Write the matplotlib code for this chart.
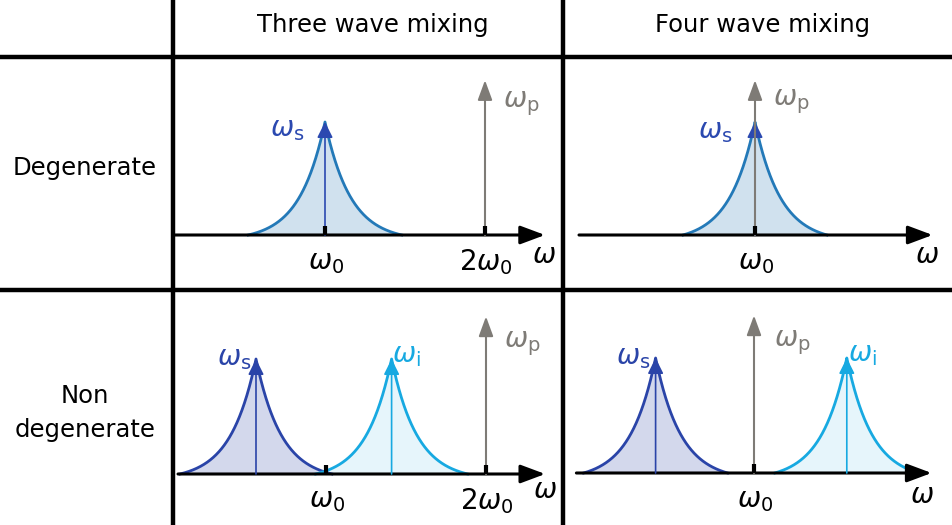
import numpy as np
import matplotlib.pyplot as plt
from matplotlib.lines import Line2D

plt.rcParams['font.family'] = ['DejaVu Sans']
plt.rcParams['mathtext.fontset'] = 'dejavusans'

W, H = 953, 525

col_titles = ['Three wave mixing', 'Four wave mixing']
row_titles = ['Degenerate', 'Non\ndegenerate']

# panels: TL, TR, BL, BR  (frequencies in units of omega_0)
signal_center = [1.0, 1.0, 0.5625, 0.385]
idler_center = [None, None, 1.41, 1.58]
pump_center = [2.0, 1.0, 2.0, 1.0]
peak_extent = [0.48, 0.45, 0.475, 0.45]
peak_width = 0.16
peak_height = 1.0
pump_height = 1.37
tick_pos = [[1, 2], [1], [1, 2], [1]]
tick_labels = [[r'$\omega_0$', r'$2\omega_0$'], [r'$\omega_0$'],
               [r'$\omega_0$', r'$2\omega_0$'], [r'$\omega_0$']]
axis_span = [(0.06, 2.375), (-0.10, 2.11), (0.075, 2.37), (-0.11, 2.11)]

# layout: cell box in px, px of omega_0, px of baseline, px per unit height
cells = [(173, 563, 57, 290, 325, 235, 113),
         (563, 953, 57, 290, 755, 235, 113),
         (173, 563, 290, 525, 326, 474, 115),
         (563, 953, 290, 525, 754, 473, 115)]
PX_PER_W0 = 160

# label anchors (left, baseline) relative to their arrows
sig_lab = [(-0.345, 0.87), (-0.355, 0.86), (-0.245, 0.95), (-0.245, 0.95)]
idl_lab = [None, None, (0.005, 0.97), (0.005, 0.97)]
pmp_lab = [(0.112, 1.13), (0.112, 1.15), (0.112, 1.10), (0.125, 1.10)]
omega_lab = [(2.294, -0.248), (2.0, -0.248), (2.294, -0.21), (1.975, -0.26)]

deg_line, deg_fill, deg_arrow = '#2379b8', '#d0e1ee', '#2b49b0'
sig_line, sig_fill = '#2a44a8', '#d3d8ec'
idl_line, idl_fill = '#17a9e1', '#e6f5fb'
pump_col = '#7e7b76'

fig = plt.figure(figsize=(W / 100, H / 100), dpi=100)


def peak(ax, c, e, line, fill, z=1):
    # sharp resonance line shape, brought down to zero at the ends
    x = np.linspace(c - e, c + e, 801)
    L = np.exp(-np.abs(x - c) / peak_width)
    Le = np.exp(-e / peak_width)
    y = peak_height * (L - Le) / (1 - Le)
    ax.fill_between(x, 0, y, color=fill, lw=0, zorder=z)
    ax.plot(x, y, color=line, lw=2.0, zorder=z + 1)


def arrow(ax, x, top, color, lw, hl=0.48, hw=0.24, z=5):
    ax.annotate('', xy=(x, top), xytext=(x, 0),
                arrowprops=dict(arrowstyle='-|>,head_length=%g,head_width=%g' % (hl, hw),
                                mutation_scale=20, lw=lw, color=color,
                                shrinkA=0, shrinkB=0), zorder=z)


for i, (x0, x1, yt, yb, ref, base, unit) in enumerate(cells):
    ax = fig.add_axes([x0 / W, 1 - yb / H, (x1 - x0) / W, (yb - yt) / H])
    ax.set_xlim(1 + (x0 - ref) / PX_PER_W0, 1 + (x1 - ref) / PX_PER_W0)
    ax.set_ylim((base - yb) / unit, (base - yt) / unit)
    ax.axis('off')

    deg = idler_center[i] is None
    sc = signal_center[i]
    if deg:
        peak(ax, sc, peak_extent[i], deg_line, deg_fill)
        arrow(ax, sc, peak_height, deg_arrow, 1.2, z=6)
        sc_col = deg_arrow
    else:
        peak(ax, sc, peak_extent[i], sig_line, sig_fill)
        peak(ax, idler_center[i], peak_extent[i], idl_line, idl_fill)
        arrow(ax, sc, peak_height, sig_line, 1.2, z=6)
        arrow(ax, idler_center[i], peak_height, idl_line, 1.2, z=6)
        sc_col = sig_line
        ax.text(idler_center[i] + idl_lab[i][0], idl_lab[i][1], r'$\omega_\mathrm{i}$',
                color=idl_line, fontsize=20, ha='left', va='baseline')

    # omega axis
    a0, a1 = axis_span[i]
    ax.annotate('', xy=(a1, 0), xytext=(a0, 0),
                arrowprops=dict(arrowstyle='-|>,head_length=0.75,head_width=0.28',
                                mutation_scale=20, lw=2.2, color='k',
                                shrinkA=0, shrinkB=0), zorder=3)
    for tp, tl in zip(tick_pos[i], tick_labels[i]):
        ax.plot([tp, tp], [0, 9 / unit], color='k', lw=3, solid_capstyle='butt', zorder=9)
        ax.annotate(tl, (tp, 0), xytext=(1, -9), textcoords='offset points',
                    ha='center', va='top', fontsize=20)
    ax.text(omega_lab[i][0], omega_lab[i][1], r'$\omega$', fontsize=20,
            ha='left', va='baseline')

    # pump
    arrow(ax, pump_center[i], pump_height, pump_col, 1.5, hl=0.6, hw=0.22, z=7)
    ax.text(pump_center[i] + pmp_lab[i][0], pmp_lab[i][1], r'$\omega_\mathrm{p}$',
            color=pump_col, fontsize=20, ha='left', va='baseline')
    ax.text(sc + sig_lab[i][0], sig_lab[i][1], r'$\omega_\mathrm{s}$',
            color=sc_col, fontsize=20, ha='left', va='baseline')

# table grid
for y in (57, 290):
    fig.add_artist(Line2D([0, 1], [1 - y / H] * 2, color='k', lw=3.2))
for x in (173, 563):
    fig.add_artist(Line2D([x / W] * 2, [0, 1], color='k', lw=3.2))

fig.text(373 / W, 1 - 25 / H, col_titles[0], ha='center', va='center', fontsize=17.5)
fig.text(763 / W, 1 - 25 / H, col_titles[1], ha='center', va='center', fontsize=17.5)
fig.text(85 / W, 1 - 168 / H, row_titles[0], ha='center', va='center', fontsize=17.5)
fig.text(85 / W, 1 - 413 / H, row_titles[1], ha='center', va='center', fontsize=17.5,
         linespacing=1.55)

fig.savefig('out.png', dpi=100)
